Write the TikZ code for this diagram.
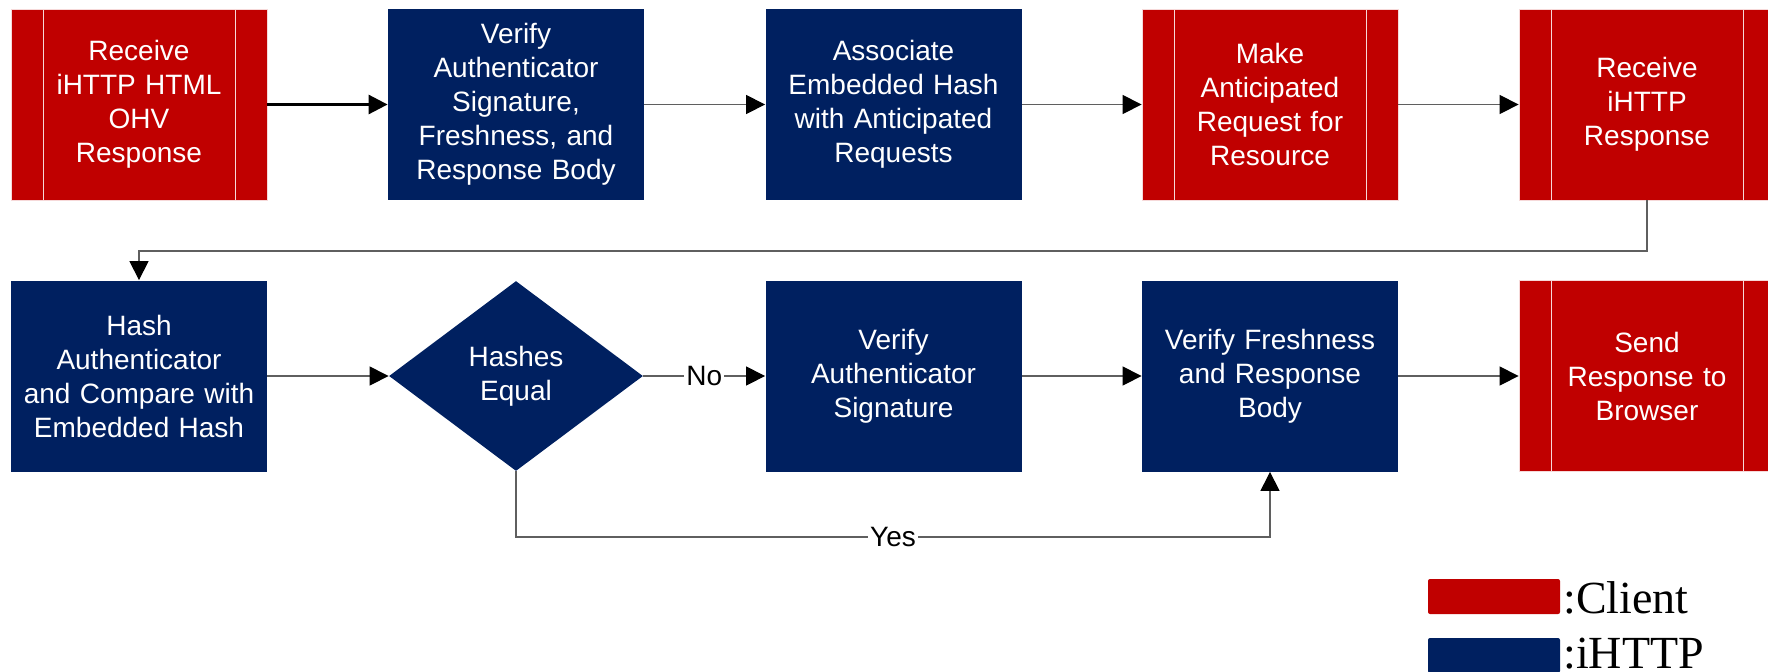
\documentclass[tikz,border=0pt]{standalone}
\usepackage{fontspec}
\setmainfont{Liberation Sans}
\newfontfamily\legendfont{Liberation Serif}
\usetikzlibrary{arrows.meta,shapes.geometric}
\definecolor{clientred}{HTML}{C00000}
\definecolor{ihttpblue}{HTML}{002060}
\definecolor{linegray}{HTML}{5F5F5F}

\begin{document}
\begin{tikzpicture}[x=0.5pt,y=-0.5pt,
  every node/.style={font=\fontsize{14}{17}\selectfont},
  box/.style={rectangle, minimum width=128pt, minimum height=95.5pt,
    inner sep=0pt, text width=124pt, align=center, text=white},
  ihttp/.style={box, fill=ihttpblue},
  client/.style={box, fill=clientred, draw=white!85!clientred, line width=0.4pt,
    path picture={
      \draw[white!85!clientred, line width=0.5pt]
        ([xshift=16pt]path picture bounding box.north west) --
        ([xshift=16pt]path picture bounding box.south west);
      \draw[white!85!clientred, line width=0.5pt]
        ([xshift=-16pt]path picture bounding box.north east) --
        ([xshift=-16pt]path picture bounding box.south east);
    }},
  decision/.style={diamond, fill=ihttpblue, minimum width=127pt,
    minimum height=95pt, inner sep=0pt, text=white, align=center},
  tipend/.style={-{Triangle[length=9.5pt,width=9.5pt,color=black]}},
  flow/.style={draw=linegray, line width=0.6pt, tipend},
  boldflow/.style={draw=black, line width=1.4pt, tipend},
  edgelabel/.style={fill=white, inner sep=1pt, text=black},
  legendbox/.style={rectangle, rounded corners=1pt, minimum width=66pt,
    minimum height=17.5pt, inner sep=0pt},
  legendtext/.style={anchor=base west, inner sep=0pt, text=black,
    font=\legendfont\fontsize{23}{27}\selectfont}
]
\useasboundingbox (0,0) rectangle (1768,671);
\clip (0,0) rectangle (1768,671);

% first row
\node[client] (b1) at (139,104.5) {Receive\\iHTTP HTML\\OHV\\Response};
\node[ihttp]  (b2) at (516,104.5) {Verify\\Authenticator\\Signature,\\Freshness, and\\Response Body};
\node[ihttp]  (b3) at (893.5,104.5) {Associate\\Embedded Hash\\with Anticipated\\Requests};
\node[client] (b4) at (1270,104.5) {Make\\Anticipated\\Request for\\Resource};
\node[client] (b5) at (1647,104.5) {Receive\\iHTTP\\Response};

% second row
\node[ihttp]    (c1) at (139,376) {Hash\\Authenticator\\and Compare with\\Embedded Hash};
\node[decision] (c2) at (516,376) {Hashes\\Equal};
\node[ihttp]    (c3) at (893.5,376) {Verify\\Authenticator\\Signature};
\node[ihttp]    (c4) at (1270,376) {Verify Freshness\\and Response\\Body};
\node[client]   (c5) at (1647,376) {Send\\Response to\\Browser};

% routing levels
\coordinate (wrap) at (0,251);
\coordinate (yesrow) at (0,537);

% first-row flow
\draw[boldflow] (b1) -- (b2);
\draw[flow] (b2) -- (b3);
\draw[flow] (b3) -- (b4);
\draw[flow] (b4) -- (b5);
\draw[flow] (b5.south) -- (b5.south |- wrap) -- (c1.north |- wrap) -- (c1.north);

% second-row flow
\draw[flow] (c1) -- (c2);
\draw[flow] (c2.east) -- node[edgelabel] {No} (c3.west);
\draw[flow] (c3) -- (c4);
\draw[flow] (c4) -- (c5);
\draw[flow] (c2.south) -- (c2.south |- yesrow)
  -- node[edgelabel] {Yes} (c4.south |- yesrow) -- (c4.south);

% legend
\node[legendbox, fill=clientred] (legclient) at (1494,596.5) {};
\node[legendbox, fill=ihttpblue] (legihttp) at (1494,655.5) {};
\node[legendtext] (legclienttext) at (1563,613) {:Client};
\node[legendtext] (legihttptext) at (1563,668) {:iHTTP};
\end{tikzpicture}
\end{document}
